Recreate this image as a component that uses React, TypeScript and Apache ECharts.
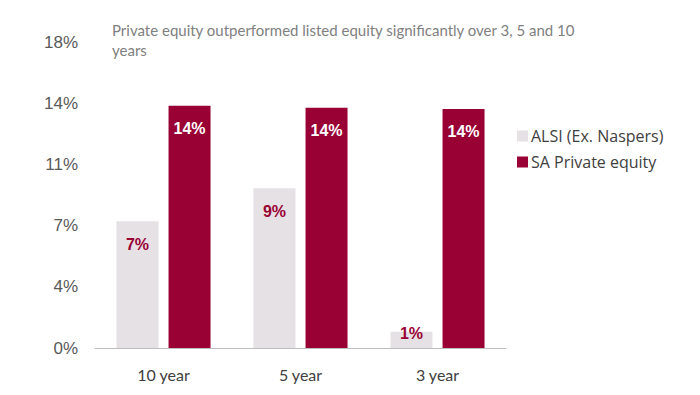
import React, { useEffect, useRef } from "react";
import * as echarts from "echarts";

const categories = ["10 year", "5 year", "3 year"];
const alsiValues = [7.45, 9.4, 0.95];
const peValues = [14.25, 14.13, 14.06];
const seriesNames = ["ALSI (Ex. Naspers)", "SA Private equity"];
const titleText = "Private equity outperformed listed equity significantly over 3, 5 and 10\nyears";

export default function App() {
  const ref = useRef<HTMLDivElement>(null);
  useEffect(() => {
    if (!ref.current) return;
    const chart = echarts.init(ref.current, null, { renderer: "svg" });
    const pct = (v: number) => Math.round(v) + "%";
    chart.setOption({
      animation: false,
      backgroundColor: "#ffffff",
      title: {
        text: titleText,
        left: 107,
        top: 15,
        textStyle: {
          fontFamily: "Lato",
          fontSize: 15,
          fontWeight: "normal",
          color: "#7f7f7f",
          lineHeight: 20,
        },
      },
      legend: {
        orient: "vertical",
        left: 512,
        top: 123,
        itemWidth: 11,
        itemHeight: 11,
        itemGap: 10,
        icon: "rect",
        textStyle: { fontFamily: "Open Sans", fontSize: 16, color: "#404040", padding: [0, 0, 0, -2] },
        data: seriesNames,
      },
      grid: { left: 95, right: 194, top: 42, bottom: 47, containLabel: false },
      xAxis: {
        type: "category",
        data: categories,
        axisTick: { show: false },
        axisLine: { lineStyle: { color: "#bfbfbf", width: 1 } },
        axisLabel: { fontFamily: "Lato", fontSize: 16, color: "#404040", margin: 18 },
      },
      yAxis: {
        type: "value",
        min: 0,
        max: 18,
        interval: 3.6,
        splitLine: { show: false },
        axisLine: { show: false },
        axisTick: { show: false },
        axisLabel: {
          formatter: (v: number) => pct(v),
          fontFamily: "Liberation Sans",
          fontSize: 17,
          color: "#595959",
          margin: 17,
        },
      },
      series: [
        {
          name: seriesNames[0],
          type: "bar",
          data: alsiValues.map((v, i) =>
            i === 2
              ? { value: v, label: { position: "top", distance: -10 } }
              : v
          ),
          barWidth: 42,
          barGap: "24%",
          itemStyle: { color: "#e6e1e5" },
          label: {
            show: true,
            position: "insideTop",
            distance: 15,
            formatter: (p: any) => pct(p.value),
            fontFamily: "Liberation Sans",
            fontWeight: "bold",
            fontSize: 16,
            color: "#990033",
          },
        },
        {
          name: seriesNames[1],
          type: "bar",
          data: peValues,
          barWidth: 42,
          itemStyle: { color: "#990033" },
          label: {
            show: true,
            position: "insideTop",
            distance: 15,
            formatter: (p: any) => pct(p.value),
            fontFamily: "Liberation Sans",
            fontWeight: "bold",
            fontSize: 16,
            color: "#ffffff",
          },
        },
      ],
    });
    return () => chart.dispose();
  }, []);
  return <div ref={ref} style={{ width: 700, height: 395, position: "absolute", left: 0, top: 0 }} />;
}
